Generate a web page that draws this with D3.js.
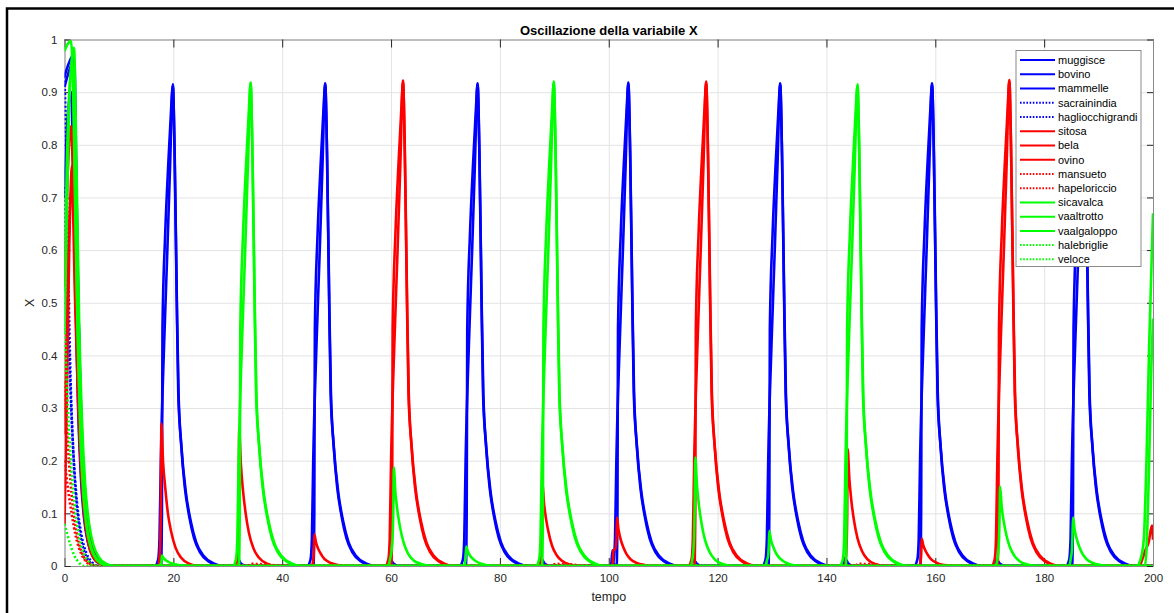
<!DOCTYPE html>
<html>
<head>
<meta charset="utf-8">
<script src="https://cdn.jsdelivr.net/npm/d3@7"></script>
<style>
  body { margin: 0; background: #fff; }
  svg { display: block; font-family: "Liberation Sans", Arial, sans-serif; }
</style>
</head>
<body>
<svg id="chart" width="1174" height="613"></svg>
<script>
// values, [tempo, X]
const muggisce = [[0,0.93],[0.8,0.955],[1.6,0.97],[2.0,0.82],[2.4,0.56],[2.9,0.33],[3.4,0.19],[4.0,0.1],[4.7,0.05],[5.5,0.02],[6.5,0.006],[8,0],
  [16.6,0],[17.2,0.012],[17.45,0.05],[17.7,0.2],[18.3,0.42],[18.9,0.6],[19.4,0.76],[19.9,0.915],[20.2,0.8],[20.6,0.52],[20.9,0.33],[21.4,0.235],[22.1,0.15],[22.9,0.095],[23.8,0.053],[24.9,0.026],[26.4,0.009],[28.9,0],
  [44.6,0],[45.2,0.012],[45.45,0.05],[45.7,0.2],[46.3,0.42],[46.9,0.6],[47.4,0.76],[47.9,0.917],[48.2,0.8],[48.6,0.52],[48.9,0.33],[49.4,0.235],[50.1,0.15],[50.9,0.095],[51.8,0.053],[52.9,0.026],[54.4,0.009],[56.9,0],
  [72.6,0],[73.2,0.012],[73.45,0.05],[73.7,0.2],[74.3,0.42],[74.9,0.6],[75.4,0.76],[75.9,0.917],[76.2,0.8],[76.6,0.52],[76.9,0.33],[77.4,0.235],[78.1,0.15],[78.9,0.095],[79.8,0.053],[80.9,0.026],[82.4,0.009],[84.9,0],
  [100.3,0],[100.9,0.012],[101.15,0.05],[101.4,0.2],[102.0,0.42],[102.6,0.6],[103.1,0.76],[103.6,0.918],[103.9,0.8],[104.3,0.52],[104.6,0.33],[105.1,0.235],[105.8,0.15],[106.6,0.095],[107.5,0.053],[108.6,0.026],[110.1,0.009],[112.6,0],
  [128.2,0],[128.8,0.012],[129.05,0.05],[129.3,0.2],[129.9,0.42],[130.5,0.6],[131.0,0.76],[131.5,0.917],[131.8,0.8],[132.2,0.52],[132.5,0.33],[133.0,0.235],[133.7,0.15],[134.5,0.095],[135.4,0.053],[136.5,0.026],[138.0,0.009],[140.5,0],
  [156.1,0],[156.7,0.012],[156.95,0.05],[157.2,0.2],[157.8,0.42],[158.4,0.6],[158.9,0.76],[159.4,0.917],[159.7,0.8],[160.1,0.52],[160.4,0.33],[160.9,0.235],[161.6,0.15],[162.4,0.095],[163.3,0.053],[164.4,0.026],[165.9,0.009],[168.4,0],
  [184.0,0],[184.6,0.012],[184.85,0.05],[185.1,0.2],[185.7,0.42],[186.3,0.6],[186.8,0.76],[187.3,0.917],[187.6,0.8],[188.0,0.52],[188.3,0.33],[188.8,0.235],[189.5,0.15],[190.3,0.095],[191.2,0.053],[192.3,0.026],[193.8,0.009],[196.3,0],[200,0]];

const bovino = [[0,0.91],[1.0,0.945],[1.8,0.96],[2.2,0.72],[2.6,0.47],[3.1,0.28],[3.6,0.16],[4.2,0.085],[5.0,0.04],[6.0,0.014],[7.5,0.003],[9,0],
  [17.75,0],[17.9,0.1],[18.0,0.45],[18.5,0.63],[19.1,0.77],[19.55,0.86],[19.9,0.912],[20.25,0.78],[20.65,0.5],[20.95,0.33],[21.5,0.225],[22.3,0.14],[23.2,0.085],[24.2,0.045],[25.5,0.02],[27.4,0.005],[29.4,0],
  [45.75,0],[45.9,0.1],[46.0,0.45],[46.5,0.63],[47.1,0.77],[47.55,0.86],[47.9,0.914],[48.25,0.78],[48.65,0.5],[48.95,0.33],[49.5,0.225],[50.3,0.14],[51.2,0.085],[52.2,0.045],[53.5,0.02],[55.4,0.005],[57.4,0],
  [73.75,0],[73.9,0.1],[74.0,0.45],[74.5,0.63],[75.1,0.77],[75.55,0.86],[75.9,0.914],[76.25,0.78],[76.65,0.5],[76.95,0.33],[77.5,0.225],[78.3,0.14],[79.2,0.085],[80.2,0.045],[81.5,0.02],[83.4,0.005],[85.4,0],
  [101.45,0],[101.6,0.1],[101.7,0.45],[102.2,0.63],[102.8,0.77],[103.25,0.86],[103.6,0.915],[103.95,0.78],[104.35,0.5],[104.65,0.33],[105.2,0.225],[106.0,0.14],[106.9,0.085],[107.9,0.045],[109.2,0.02],[111.1,0.005],[113.1,0],
  [129.35,0],[129.5,0.1],[129.6,0.45],[130.1,0.63],[130.7,0.77],[131.15,0.86],[131.5,0.914],[131.85,0.78],[132.25,0.5],[132.55,0.33],[133.1,0.225],[133.9,0.14],[134.8,0.085],[135.8,0.045],[137.1,0.02],[139.0,0.005],[141.0,0],
  [157.25,0],[157.4,0.1],[157.5,0.45],[158.0,0.63],[158.6,0.77],[159.05,0.86],[159.4,0.914],[159.75,0.78],[160.15,0.5],[160.45,0.33],[161.0,0.225],[161.8,0.14],[162.7,0.085],[163.7,0.045],[165.0,0.02],[166.9,0.005],[168.9,0],
  [185.15,0],[185.3,0.1],[185.4,0.45],[185.9,0.63],[186.5,0.77],[186.95,0.86],[187.3,0.914],[187.65,0.78],[188.05,0.5],[188.35,0.33],[188.9,0.225],[189.7,0.14],[190.6,0.085],[191.6,0.045],[192.9,0.02],[194.8,0.005],[196.8,0],[200,0]];

const mammelle = [[0,0.7],[0.5,0.84],[1.2,0.9],[1.6,0.76],[2.0,0.52],[2.5,0.3],[3.0,0.17],[3.6,0.09],[4.3,0.045],[5.2,0.018],[6.5,0.004],[8,0],
  [31.2,0],[31.8,0.015],[32.4,0.005],[33.5,0],[59.3,0],[59.9,0.012],[60.5,0.004],[61.5,0],[87.0,0],[87.6,0.014],[88.2,0.005],[89.3,0],
  [100.4,0],[100.7,0.03],[100.9,0.005],[101.5,0],[115.0,0],[115.6,0.012],[116.2,0.004],[117.2,0],[142.8,0],[143.4,0.015],[144.0,0.005],[145.0,0],
  [170.7,0],[171.3,0.012],[171.9,0.004],[173.0,0],[200,0]];

const sacrainindia = [[0,0.93],[0.3,0.8],[0.7,0.55],[1.1,0.36],[1.6,0.22],[2.2,0.12],[2.9,0.06],[3.7,0.026],[4.6,0.008],[5.8,0],[200,0]];
const hagliocchigrandi = [[0,0.72],[0.5,0.52],[1.0,0.36],[1.6,0.22],[2.3,0.12],[3.1,0.06],[4.0,0.025],[5.0,0.008],[6.2,0],[200,0]];

const sitosa = [[0,0.53],[0.5,0.72],[1.2,0.835],[1.7,0.68],[2.2,0.46],[2.8,0.27],[3.4,0.15],[4.1,0.08],[4.9,0.038],[5.8,0.015],[7,0.004],[8.5,0],
  [58.9,0],[59.5,0.012],[59.75,0.05],[60.0,0.2],[60.6,0.42],[61.2,0.6],[61.7,0.76],[62.2,0.922],[62.5,0.8],[62.9,0.52],[63.2,0.33],[63.7,0.235],[64.4,0.15],[65.2,0.095],[66.1,0.053],[67.2,0.026],[68.7,0.009],[71.2,0],
  [114.6,0],[115.2,0.012],[115.45,0.05],[115.7,0.2],[116.3,0.42],[116.9,0.6],[117.4,0.76],[117.9,0.92],[118.2,0.8],[118.6,0.52],[118.9,0.33],[119.4,0.235],[120.1,0.15],[120.9,0.095],[121.8,0.053],[122.9,0.026],[124.4,0.009],[126.9,0],
  [170.3,0],[170.9,0.012],[171.15,0.05],[171.4,0.2],[172.0,0.42],[172.6,0.6],[173.1,0.76],[173.6,0.923],[173.9,0.8],[174.3,0.52],[174.6,0.33],[175.1,0.235],[175.8,0.15],[176.6,0.095],[177.5,0.053],[178.6,0.026],[180.1,0.009],[182.6,0],[200,0]];

const bela = [[0,0.08],[0.4,0.3],[0.9,0.62],[1.4,0.76],[1.9,0.6],[2.4,0.38],[3.0,0.21],[3.6,0.11],[4.3,0.052],[5.2,0.02],[6.5,0.005],[8,0],
  [60.05,0],[60.2,0.1],[60.3,0.45],[60.8,0.63],[61.4,0.77],[61.85,0.86],[62.2,0.918],[62.55,0.78],[62.95,0.5],[63.25,0.33],[63.8,0.225],[64.6,0.14],[65.5,0.085],[66.5,0.045],[67.8,0.02],[69.7,0.005],[71.7,0],
  [115.75,0],[115.9,0.1],[116.0,0.45],[116.5,0.63],[117.1,0.77],[117.55,0.86],[117.9,0.917],[118.25,0.78],[118.65,0.5],[118.95,0.33],[119.5,0.225],[120.3,0.14],[121.2,0.085],[122.2,0.045],[123.5,0.02],[125.4,0.005],[127.4,0],
  [171.45,0],[171.6,0.1],[171.7,0.45],[172.2,0.63],[172.8,0.77],[173.25,0.86],[173.6,0.92],[173.95,0.78],[174.35,0.5],[174.65,0.33],[175.2,0.225],[176.0,0.14],[176.9,0.085],[177.9,0.045],[179.2,0.02],[181.1,0.005],[183.1,0],[200,0]];

const ovino = [[0,0.25],[0.5,0.5],[1.0,0.68],[1.4,0.72],[1.9,0.52],[2.5,0.31],[3.1,0.17],[3.7,0.09],[4.4,0.042],[5.3,0.016],[6.6,0.004],[8,0],
  [17.2,0],[17.5,0.022],[17.7,0.11],[17.8,0.27],[18.1,0.2],[18.5,0.15],[19.0,0.1],[19.6,0.065],[20.4,0.035],[21.4,0.016],[22.8,0.005],[24.8,0],
  [31.5,0],[31.8,0.021],[32.0,0.1],[32.1,0.26],[32.4,0.195],[32.8,0.143],[33.3,0.099],[33.9,0.062],[34.7,0.034],[35.7,0.016],[37.1,0.005],[39.1,0],
  [45.3,0],[45.6,0.005],[45.8,0.024],[45.9,0.06],[46.2,0.045],[46.6,0.033],[47.1,0.023],[47.7,0.014],[48.5,0.008],[49.5,0.004],[50.9,0.001],[52.9,0],
  [87.2,0],[87.5,0.013],[87.7,0.064],[87.8,0.16],[88.1,0.12],[88.5,0.088],[89.0,0.061],[89.6,0.038],[90.4,0.021],[91.4,0.01],[92.8,0.003],[94.8,0],
  [100.7,0],[100.85,0.03],[101.2,0.032],[101.4,0.05],[101.5,0.092],[101.8,0.069],[102.2,0.05],[102.7,0.035],[103.3,0.022],[104.1,0.012],[105.1,0.006],[106.5,0.002],[108.5,0],
  [143.3,0],[143.6,0.018],[143.8,0.089],[143.9,0.222],[144.2,0.167],[144.6,0.122],[145.1,0.084],[145.7,0.053],[146.5,0.029],[147.5,0.013],[148.9,0.004],[150.9,0],
  [156.9,0],[157.2,0.004],[157.4,0.021],[157.5,0.052],[157.8,0.039],[158.2,0.029],[158.7,0.02],[159.3,0.012],[160.1,0.007],[161.1,0.003],[162.5,0.001],[164.5,0],
  [197.5,0],[198.0,0.012],[198.6,0.03],[199.2,0.045],[199.8,0.077],[200,0.05]];

const mansueto = [[0,0.35],[0.5,0.25],[1.1,0.16],[1.8,0.09],[2.6,0.045],[3.5,0.018],[4.6,0.005],[5.8,0],
  [33.5,0],[34.5,0.004],[37,0.003],[40,0],[89.3,0],[90.3,0.004],[93,0.003],[96,0],[145,0],[146,0.004],[148.5,0.003],[151,0],[200,0]];
const hapeloriccio = [[0,0.2],[0.6,0.15],[1.3,0.1],[2.1,0.055],[3.0,0.025],[4.0,0.008],[5.2,0],[200,0]];

const sicavalca = [[0,0.978],[0.5,0.99],[1.2,0.997],[1.6,0.9],[2.0,0.66],[2.5,0.4],[3.0,0.23],[3.6,0.125],[4.2,0.068],[5.0,0.032],[6.0,0.012],[7.5,0.003],[9,0],
  [30.9,0],[31.5,0.012],[31.75,0.05],[32.0,0.2],[32.6,0.42],[33.2,0.6],[33.7,0.76],[34.2,0.918],[34.5,0.8],[34.9,0.52],[35.2,0.33],[35.7,0.235],[36.4,0.15],[37.2,0.095],[38.1,0.053],[39.2,0.026],[40.7,0.009],[43.2,0],
  [86.6,0],[87.2,0.012],[87.45,0.05],[87.7,0.2],[88.3,0.42],[88.9,0.6],[89.4,0.76],[89.9,0.92],[90.2,0.8],[90.6,0.52],[90.9,0.33],[91.4,0.235],[92.1,0.15],[92.9,0.095],[93.8,0.053],[94.9,0.026],[96.4,0.009],[98.9,0],
  [142.4,0],[143.0,0.012],[143.25,0.05],[143.5,0.2],[144.1,0.42],[144.7,0.6],[145.2,0.76],[145.7,0.915],[146.0,0.8],[146.4,0.52],[146.7,0.33],[147.2,0.235],[147.9,0.15],[148.7,0.095],[149.6,0.053],[150.7,0.026],[152.2,0.009],[154.7,0],
  [197.0,0],[197.7,0.012],[198.3,0.05],[198.8,0.2],[199.3,0.42],[200,0.67]];

const vaaltrotto = [[0,0.44],[0.3,0.6],[0.8,0.85],[1.3,0.96],[1.75,0.984],[2.2,0.76],[2.7,0.46],[3.2,0.28],[3.8,0.155],[4.5,0.082],[5.3,0.04],[6.3,0.017],[7.5,0.005],[9,0],
  [32.05,0],[32.2,0.1],[32.3,0.45],[32.8,0.63],[33.4,0.77],[33.85,0.86],[34.2,0.915],[34.55,0.78],[34.95,0.5],[35.25,0.33],[35.8,0.225],[36.6,0.14],[37.5,0.085],[38.5,0.045],[39.8,0.02],[41.7,0.005],[43.7,0],
  [87.75,0],[87.9,0.1],[88.0,0.45],[88.5,0.63],[89.1,0.77],[89.55,0.86],[89.9,0.917],[90.25,0.78],[90.65,0.5],[90.95,0.33],[91.5,0.225],[92.3,0.14],[93.2,0.085],[94.2,0.045],[95.5,0.02],[97.4,0.005],[99.4,0],
  [143.55,0],[143.7,0.1],[143.8,0.45],[144.3,0.63],[144.9,0.77],[145.35,0.86],[145.7,0.912],[146.05,0.78],[146.45,0.5],[146.75,0.33],[147.3,0.225],[148.1,0.14],[149.0,0.085],[150.0,0.045],[151.3,0.02],[153.2,0.005],[155.2,0],
  [198.5,0],[198.8,0.03],[199.3,0.2],[199.7,0.38],[200,0.47]];

const vaalgaloppo = [[0,0.52],[0.4,0.75],[1.0,0.92],[1.5,0.95],[1.9,0.75],[2.4,0.46],[2.9,0.27],[3.4,0.15],[4.0,0.08],[4.8,0.036],[5.8,0.013],[7.2,0.003],[8.5,0],
  [17.3,0],[17.6,0.002],[17.8,0.008],[17.9,0.02],[18.2,0.015],[18.6,0.011],[19.1,0.008],[19.7,0.005],[20.5,0.003],[21.5,0.001],[23.5,0],
  [59.4,0],[59.8,0.012],[60.2,0.04],[60.4,0.1],[60.5,0.187],[60.8,0.14],[61.2,0.103],[61.7,0.071],[62.3,0.045],[63.1,0.024],[64.1,0.011],[65.5,0.004],[67.5,0],
  [73.2,0],[73.5,0.003],[73.7,0.015],[73.8,0.037],[74.1,0.028],[74.5,0.02],[75.0,0.014],[75.6,0.009],[76.4,0.005],[77.4,0.002],[79.4,0],
  [115.0,0],[115.4,0.015],[115.7,0.06],[115.8,0.12],[115.9,0.206],[116.2,0.155],[116.6,0.113],[117.1,0.078],[117.7,0.049],[118.5,0.027],[119.5,0.012],[120.9,0.004],[122.9,0],
  [128.7,0],[129.1,0.012],[129.3,0.02],[129.4,0.035],[129.5,0.067],[129.8,0.05],[130.2,0.037],[130.7,0.025],[131.3,0.016],[132.1,0.009],[133.1,0.004],[134.5,0.001],[136.5,0],
  [171.0,0],[171.4,0.012],[171.7,0.05],[171.8,0.09],[171.9,0.151],[172.2,0.113],[172.6,0.083],[173.1,0.057],[173.7,0.036],[174.5,0.02],[175.5,0.009],[176.9,0.003],[178.9,0],
  [184.6,0],[184.9,0.015],[185.1,0.03],[185.2,0.055],[185.3,0.092],[185.6,0.069],[186.0,0.051],[186.5,0.035],[187.1,0.022],[187.9,0.012],[188.9,0.006],[190.3,0.002],[192.3,0],[200,0]];

const halebriglie = [[0,0.08],[0.5,0.06],[1.1,0.04],[1.8,0.02],[2.6,0.007],[3.5,0],[200,0]];
const veloce = [[0,0.46],[0.5,0.33],[1.1,0.21],[1.8,0.12],[2.6,0.06],[3.5,0.025],[4.5,0.008],[5.6,0],[200,0]];

const seriesNames = ['muggisce','bovino','mammelle','sacrainindia','hagliocchigrandi',
  'sitosa','bela','ovino','mansueto','hapeloriccio',
  'sicavalca','vaaltrotto','vaalgaloppo','halebriglie','veloce'];
const seriesValues = [muggisce, bovino, mammelle, sacrainindia, hagliocchigrandi,
  sitosa, bela, ovino, mansueto, hapeloriccio,
  sicavalca, vaaltrotto, vaalgaloppo, halebriglie, veloce];

const xTicks = [0, 20, 40, 60, 80, 100, 120, 140, 160, 180, 200];
const yTicks = [0, 0.1, 0.2, 0.3, 0.4, 0.5, 0.6, 0.7, 0.8, 0.9, 1];
const yTickLabels = ['0', '0.1', '0.2', '0.3', '0.4', '0.5', '0.6', '0.7', '0.8', '0.9', '1'];

// styles
const groupColors = ['#0000ff', '#ff0000', '#00ff00'];
const dottedFlags = [false, false, false, true, true];

const svg = d3.select('#chart');
const width = 1174, height = 613,
      margin = {top: 39.5, right: 21, bottom: 47, left: 64.5};

// figure frame
svg.append('path')
  .attr('d', `M7,${height} L7,8.5 L${width},8.5`)
  .attr('fill', 'none')
  .attr('stroke', '#000')
  .attr('stroke-width', 2.5);

var xScale = d3.scaleLinear()
  .domain([0, 200])
  .range([margin.left, width - margin.right]);

var yScale = d3.scaleLinear()
  .domain([0, 1])
  .range([height - margin.bottom, margin.top]);

var plotW = width - margin.right - margin.left,
    plotH = height - margin.bottom - margin.top;

// grid
svg.append('g')
  .attr('transform', `translate(0, ${height - margin.bottom})`)
  .call(d3.axisBottom(xScale).tickValues(xTicks).tickSize(-plotH).tickFormat(''))
  .call(g => g.select('.domain').remove())
  .call(g => g.selectAll('line').attr('stroke', '#e3e3e3'));

svg.append('g')
  .attr('transform', `translate(${margin.left}, 0)`)
  .call(d3.axisLeft(yScale).tickValues(yTicks).tickSize(-plotW).tickFormat(''))
  .call(g => g.select('.domain').remove())
  .call(g => g.selectAll('line').attr('stroke', '#e3e3e3'));

// axes box + inward ticks
function styleAxis(g) {
  g.select('.domain').attr('stroke', '#8a8a8a');
  g.selectAll('line').attr('stroke', '#262626');
  g.selectAll('text').attr('fill', '#262626').style('font-size', '11.5px')
    .style('font-family', '"Liberation Sans", Arial, sans-serif');
}

svg.append('g')
  .attr('transform', `translate(0, ${height - margin.bottom})`)
  .call(d3.axisBottom(xScale).tickValues(xTicks).tickSizeInner(-8).tickSizeOuter(0).tickPadding(8))
  .call(styleAxis);

svg.append('g')
  .attr('transform', `translate(0, ${margin.top})`)
  .call(d3.axisTop(xScale).tickValues(xTicks).tickSizeInner(-8).tickSizeOuter(0).tickFormat(''))
  .call(styleAxis);

svg.append('g')
  .attr('transform', `translate(${margin.left}, 0)`)
  .call(d3.axisLeft(yScale).tickValues(yTicks).tickSizeInner(-6).tickSizeOuter(0).tickPadding(7)
    .tickFormat((d, i) => yTickLabels[i]))
  .call(styleAxis);

svg.append('g')
  .attr('transform', `translate(${width - margin.right}, 0)`)
  .call(d3.axisRight(yScale).tickValues(yTicks).tickSizeInner(-6).tickSizeOuter(0).tickFormat(''))
  .call(styleAxis);

// lines
svg.append('clipPath').attr('id', 'plotclip')
  .append('rect')
  .attr('x', margin.left).attr('y', margin.top - 3)
  .attr('width', plotW).attr('height', plotH + 3);

var line = d3.line()
  .x(d => xScale(d[0]))
  .y(d => yScale(d[1]))
  .curve(d3.curveMonotoneX);

var lines = svg.append('g').attr('clip-path', 'url(#plotclip)');

seriesValues.forEach(function(values, i) {
  lines.append('path')
    .datum(values)
    .attr('fill', 'none')
    .attr('stroke', groupColors[Math.floor(i / 5)])
    .attr('stroke-width', 2.6)
    .attr('stroke-linejoin', 'round')
    .attr('stroke-dasharray', dottedFlags[i % 5] ? '2,2.2' : null)
    .attr('d', line);
});

// title and labels
svg.append('text')
  .attr('x', (margin.left + width - margin.right) / 2)
  .attr('y', 35)
  .attr('text-anchor', 'middle')
  .style('font-size', '13px')
  .style('font-weight', 'bold')
  .attr('fill', '#000')
  .text('Oscillazione della variabile X');

svg.append('text')
  .attr('x', (margin.left + width - margin.right) / 2)
  .attr('y', 601)
  .attr('text-anchor', 'middle')
  .style('font-size', '12.5px')
  .attr('fill', '#262626')
  .text('tempo');

svg.append('text')
  .attr('transform', `translate(34, ${(margin.top + height - margin.bottom) / 2}) rotate(-90)`)
  .attr('text-anchor', 'middle')
  .style('font-size', '12.5px')
  .attr('fill', '#262626')
  .text('X');

// legend
var legend = svg.append('g').attr('transform', 'translate(1016, 50.5)');
legend.append('rect')
  .attr('width', 125).attr('height', 216)
  .attr('fill', '#fff')
  .attr('stroke', '#8a8a8a');

seriesNames.forEach(function(name, i) {
  var y = 9.5 + i * 14.24;
  legend.append('line')
    .attr('x1', 4).attr('x2', 39)
    .attr('y1', y).attr('y2', y)
    .attr('stroke', groupColors[Math.floor(i / 5)])
    .attr('stroke-width', 2)
    .attr('stroke-dasharray', dottedFlags[i % 5] ? '1.6,1.6' : null);
  legend.append('text')
    .attr('x', 42).attr('y', y)
    .attr('dy', '0.35em')
    .style('font-size', '11px')
    .attr('fill', '#000')
    .text(name);
});
</script>
</body>
</html>
